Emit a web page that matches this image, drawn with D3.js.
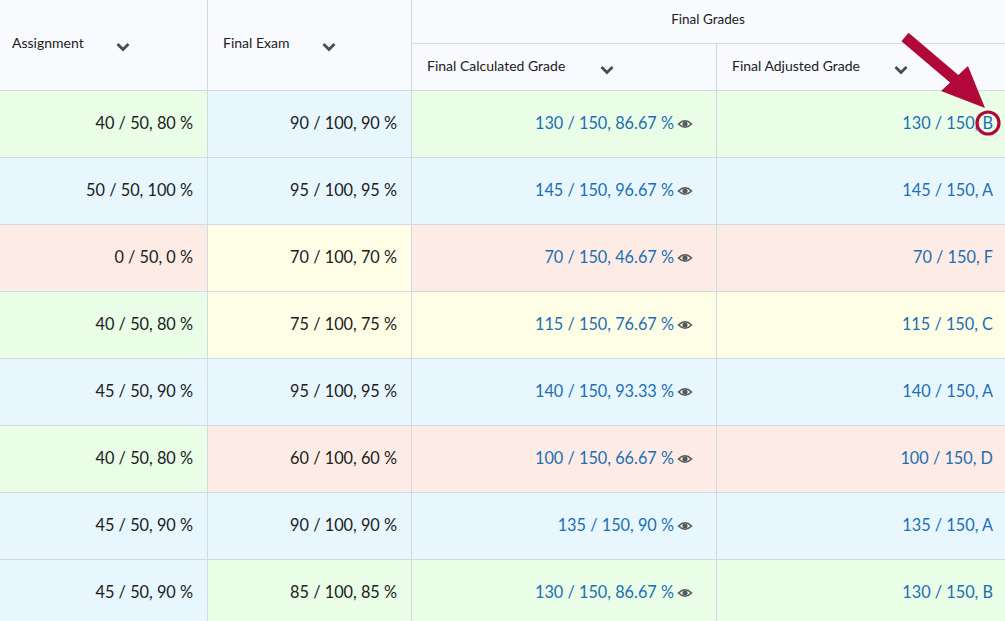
<!DOCTYPE html><html><head><meta charset="utf-8">
<script src="https://cdn.jsdelivr.net/npm/d3@7"></script>
<style>body{margin:0;background:#fff}svg{display:block;font-family:Lato,sans-serif}</style></head><body>
<svg id="c" width="1005" height="621"></svg>
<script>
const columns = ["Assignment","Final Exam","Final Calculated Grade","Final Adjusted Grade"];
const groupLabel = "Final Grades";
const assignment = ["40 / 50, 80 %","50 / 50, 100 %","0 / 50, 0 %","40 / 50, 80 %","45 / 50, 90 %","40 / 50, 80 %","45 / 50, 90 %","45 / 50, 90 %"];
const finalExam = ["90 / 100, 90 %","95 / 100, 95 %","70 / 100, 70 %","75 / 100, 75 %","95 / 100, 95 %","60 / 100, 60 %","90 / 100, 90 %","85 / 100, 85 %"];
const calculated = ["130 / 150, 86.67 %","145 / 150, 96.67 %","70 / 150, 46.67 %","115 / 150, 76.67 %","140 / 150, 93.33 %","100 / 150, 66.67 %","135 / 150, 90 %","130 / 150, 86.67 %"];
const adjusted = ["130 / 150, B","145 / 150, A","70 / 150, F","115 / 150, C","140 / 150, A","100 / 150, D","135 / 150, A","130 / 150, B"];
const cellTone = [["g","b","g","g"],["b","b","b","b"],["r","y","r","r"],["g","y","y","y"],["b","b","b","b"],["g","r","r","r"],["b","b","b","b"],["b","g","g","g"]];
const tones = {g:"#e9fde7",b:"#e7f7fd",r:"#fdece5",y:"#fefee7"};

const svg = d3.select("#c");
const colEdges=[0,207,411,716,1005];
const x = d3.scaleOrdinal().domain(d3.range(4)).range(colEdges.slice(0,4));
const w = i=>colEdges[i+1]-colEdges[i];
const y = d3.scaleBand().domain(d3.range(8)).range([90,90+67*8]);
const line="#d3d9e3";
svg.append("rect").attr("width",1005).attr("height",90).attr("fill","#f9fafe");
const data = assignment.map((a,i)=>[a,finalExam[i],calculated[i],adjusted[i]]);
const rows = svg.selectAll("g.r").data(data).join("g").attr("transform",(d,i)=>`translate(0,${y(i)})`);
const rOff=[14,14,42,12];
rows.each(function(d,ri){
  const g=d3.select(this);
  d.forEach((t,ci)=>{
    g.append("rect").attr("x",x(ci)).attr("width",w(ci)).attr("height",y.bandwidth()).attr("fill",tones[cellTone[ri][ci]]);
    const blue=ci>=2;
    g.append("text").attr("x",colEdges[ci+1]-rOff[ci]).attr("y",39).attr("text-anchor","end").attr("font-size",16.3)
      .attr("fill",blue?"#1c6fb5":"#202122").text(t);
    if(ci==2){
      const e=g.append("g").attr("transform",`translate(${colEdges[3]-31},34)`).attr("fill","none").attr("stroke","#565a5c").attr("stroke-width",1.6);
      e.append("path").attr("d","M-6.5,0 Q0,-6.5 6.5,0 Q0,6.5 -6.5,0Z");
      e.append("circle").attr("r",1.8).attr("fill","#565a5c");
    }
  });
});
y.domain().forEach(i=>svg.append("line").attr("x1",0).attr("x2",1005).attr("y1",y(i)+0.5).attr("y2",y(i)+0.5).attr("stroke",line));
svg.append("line").attr("x1",411).attr("x2",1005).attr("y1",43.5).attr("y2",43.5).attr("stroke",line);
[207,411].forEach(v=>svg.append("line").attr("x1",v+.5).attr("x2",v+.5).attr("y1",0).attr("y2",621).attr("stroke",line));
svg.append("line").attr("x1",716.5).attr("x2",716.5).attr("y1",43).attr("y2",621).attr("stroke",line);
svg.append("text").attr("x",708).attr("y",24).attr("text-anchor","middle").attr("font-size",13.5).attr("fill","#202122").text(groupLabel);
const hpos=[[12,48,123],[223,48,329],[427,71,607],[732,71,901]];
columns.forEach((c,i)=>{
  svg.append("text").attr("x",hpos[i][0]).attr("y",hpos[i][1]).attr("font-size",14).attr("fill","#202122").text(c);
  svg.append("path").attr("d",`M${hpos[i][2]-5.5},${hpos[i][1]-4} l5.5,5.5 l5.5,-5.5`).attr("fill","none").attr("stroke","#494c4e").attr("stroke-width",2.8);
});
const red="#b1083a";
svg.append("line").attr("x1",905).attr("y1",37).attr("x2",958).attr("y2",82).attr("stroke",red).attr("stroke-width",11);
svg.append("path").attr("d","M985,108 L941,91 L968,66 Z").attr("fill",red);
svg.append("circle").attr("cx",988).attr("cy",123).attr("r",11).attr("fill","none").attr("stroke",red).attr("stroke-width",3.2);
</script></body></html>
